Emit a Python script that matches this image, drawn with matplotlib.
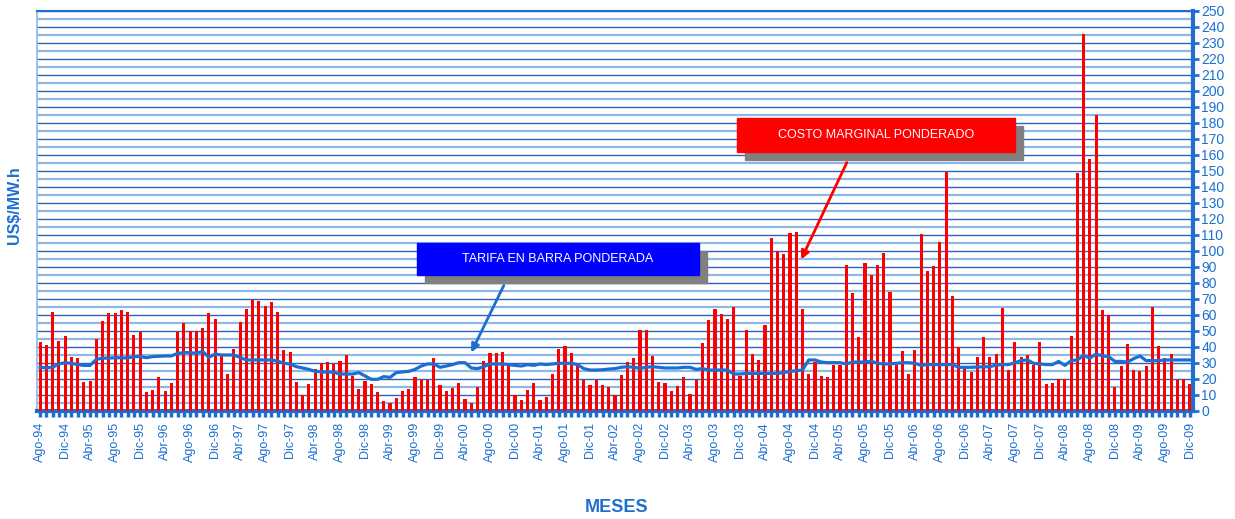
import numpy as np
import matplotlib
matplotlib.use("Agg")
import matplotlib.pyplot as plt
from matplotlib.patches import Rectangle

plt.rcParams['font.family'] = ['Liberation Sans', 'DejaVu Sans']

# Monthly series, Ago-94 .. Dic-09
month_names = ["Ene", "Feb", "Mar", "Abr", "May", "Jun",
               "Jul", "Ago", "Sep", "Oct", "Nov", "Dic"]
start_year, start_month = 1994, 8

costo_marginal = [
    43, 41, 62, 44, 47, 34, 33, 18, 19, 45, 56, 61, 61, 63, 62, 47.5, 49.5,
    12, 13, 21, 12.5, 17.5, 49.5, 55, 50, 50, 52, 61, 57.5, 34.5, 23, 39,
    55.5, 64, 69.5, 69, 65.5, 68, 62, 38, 37, 18, 10, 17, 26, 30, 30.5,
    29.5, 31, 35, 22, 14, 19, 17, 12, 6, 5, 8, 12.5, 14, 21, 19.5, 19.5,
    33, 16, 12.5, 14.5, 17.5, 7.5, 5, 15, 31, 36, 36, 37, 29.5, 10, 7,
    13, 17.5, 7, 9, 23, 39, 40.5, 36, 29.5, 19.5, 16, 19.5, 16, 15, 10,
    22.5, 30.5, 33, 50.5, 50.5, 34.5, 18, 17.5, 12.5, 15.5, 21, 10.5, 19.5,
    42.5, 57, 64, 60.5, 57.5, 65, 22, 50.5, 35.5, 32, 54, 108, 100, 98,
    111, 112, 64, 23, 30.5, 22, 21, 29, 29, 91, 74, 46.5, 92.5, 85, 91,
    99, 74.5, 29, 37.5, 23, 38, 110.5, 87.5, 90.5, 105.5, 149.5, 72, 40,
    27, 24.5, 34, 46, 34, 35.5, 64.5, 25.5, 43, 34, 35, 29, 43, 17, 17.5,
    20, 20, 47, 149, 235.5, 157.5, 185, 63, 60, 15, 28, 42, 25.5, 25, 28,
    65, 40.5, 33, 35.5, 19.5, 20, 17,
]

tarifa_barra = [
    27.3, 27, 27.3, 29.4, 30.2, 29.8, 29, 28.5, 28.5, 32.3, 33, 33.1, 33.3,
    33.3, 33.1, 34, 34, 33.3, 34, 34.2, 34.4, 34.4, 36, 36.5, 36.5, 36,
    37.3, 33.5, 35.6, 35, 35, 35, 33.5, 31.9, 31.9, 31.9, 31.9, 31.9, 31.2,
    29.8, 29.4, 27.7, 26.9, 26, 24.8, 24.4, 24.4, 24.2, 23.1, 23.1, 23.1,
    24, 21.9, 19.8, 19.8, 21.5, 21, 24, 24.4, 24.8, 26, 28.1, 29.4, 29.4,
    27.3, 28.1, 29, 30.2, 30.2, 26.9, 26.5, 27.7, 29.4, 29.4, 29.4, 29,
    28.5, 28.1, 29, 28.5, 29.4, 29, 29.4, 29.8, 29.8, 29.8, 29, 26.5, 25.6,
    25.6, 25.8, 26.2, 26.5, 27.3, 27.7, 27.3, 26.7, 27.3, 27.7, 27.3, 26.9,
    26.9, 26.9, 27.3, 27.3, 26, 26.5, 25.6, 25.6, 25.6, 25.6, 23.1, 23.1,
    23.5, 23.5, 23.5, 23.5, 23.5, 23.5, 24, 24.7, 25.2, 25.6, 31.9, 31.9,
    30.6, 30.2, 30.2, 30.2, 29.4, 30.6, 30.6, 30.6, 31.2, 29.8, 29.4, 29.4,
    29.8, 30.2, 30.2, 29.8, 28.5, 29, 29, 29, 29, 29, 27.3, 27.3, 27.3, 27.5,
    27.6, 27.7, 28.7, 29, 29, 30.2, 31.5, 31.9, 29.8, 29.4, 29, 29, 31, 28.5,
    31.5, 31.9, 34.8, 33.1, 35.6, 34.4, 34, 31, 31, 30.6, 32.7, 34.4, 31.5,
    31.5, 31.5, 31.9, 31.9, 31.9, 31.9, 31.9,
]

label_tarifa = "TARIFA EN BARRA PONDERADA"
label_costo = "COSTO MARGINAL PONDERADO"

W, H = 1235, 519
blue = "#1c6fd1"
grid_dark = "#2a63b8"
grid_light = "#8db8ea"

fig = plt.figure(figsize=(W / 100, H / 100), dpi=100)
ax = fig.add_axes([37 / W, 1 - 411 / H, (1193 - 37) / W, (411 - 11) / H])

n = len(costo_marginal)
x = np.arange(n)
month_labels = []
for i in range(n):
    m = (start_month - 1 + i) % 12
    y = start_year + (start_month - 1 + i) // 12
    month_labels.append(f"{month_names[m]}-{y % 100:02d}")

ax.bar(x, costo_marginal, width=0.5, color="#ff0000", zorder=3)
ax.plot(x, tarifa_barra, color=blue, lw=2.3, zorder=4, solid_joinstyle="round")

ax.set_xlim(-0.5, n - 0.5)
ax.set_ylim(0, 250)

# y axis on the right
ax.yaxis.tick_right()
ax.set_yticks(np.arange(0, 251, 10))
ax.set_yticks(np.arange(5, 250, 10), minor=True)
ax.tick_params(axis="y", which="major", colors=blue, labelsize=10,
               length=4, width=2, direction="out", pad=2)
ax.tick_params(axis="y", which="minor", length=0)
ax.grid(axis="y", which="major", color=grid_dark, lw=1.0, zorder=0)
ax.grid(axis="y", which="minor", color=grid_light, lw=1.6, zorder=0)

ax.set_xticks(x[::4])
ax.set_xticklabels(month_labels[::4], rotation=90)
ax.set_xticks(x, minor=True)
ax.tick_params(axis="x", which="major", colors=blue, labelsize=9,
               length=4, width=2.5, direction="out", pad=4)
ax.tick_params(axis="x", which="minor", color=blue, length=4, width=2.5,
               direction="out")
ax.set_axisbelow(True)

for side in ["right", "bottom"]:
    ax.spines[side].set_color(blue)
    ax.spines[side].set_linewidth(3)
ax.spines["top"].set_color(blue)
ax.spines["top"].set_linewidth(1.5)
ax.spines["left"].set_color(grid_light)
ax.spines["left"].set_linewidth(1.2)

fig.text(15 / W, 1 - 205 / H, "US$/MW.h", rotation=90, ha="center",
         va="center", color=blue, fontsize=11.5, fontweight="bold")
fig.text(617 / W, 1 - 508 / H, "MESES", ha="center", va="center",
         color=blue, fontsize=13, fontweight="bold")


def px(xp, yp):
    return xp / W, 1 - yp / H


def label_box(x0, y0, x1, y1, face, text):
    sx, sy = px(x0 + 8, y1 + 8)
    fig.add_artist(Rectangle((sx, sy), (x1 - x0) / W, (y1 - y0) / H,
                             transform=fig.transFigure, color="#808080",
                             zorder=5))
    bx, by = px(x0, y1)
    fig.add_artist(Rectangle((bx, by), (x1 - x0) / W, (y1 - y0) / H,
                             transform=fig.transFigure, color=face,
                             zorder=6))
    cx, cy = px((x0 + x1) / 2, (y0 + y1) / 2)
    fig.text(cx, cy, text, ha="center", va="center", color="white",
             fontsize=9, zorder=7)


label_box(417, 243, 699, 275, "#0000ff", label_tarifa)
label_box(737, 118, 1015, 152, "#ff0000", label_costo)

ax.annotate("", xy=px(470, 355), xytext=px(505, 283),
            xycoords="figure fraction", textcoords="figure fraction",
            arrowprops=dict(arrowstyle="-|>", color=blue, lw=2,
                            mutation_scale=12), zorder=8)
ax.annotate("", xy=px(800, 262), xytext=px(848, 160),
            xycoords="figure fraction", textcoords="figure fraction",
            arrowprops=dict(arrowstyle="-|>", color="#ff0000", lw=2,
                            mutation_scale=12), zorder=8)

fig.savefig("out.png", dpi=100)
